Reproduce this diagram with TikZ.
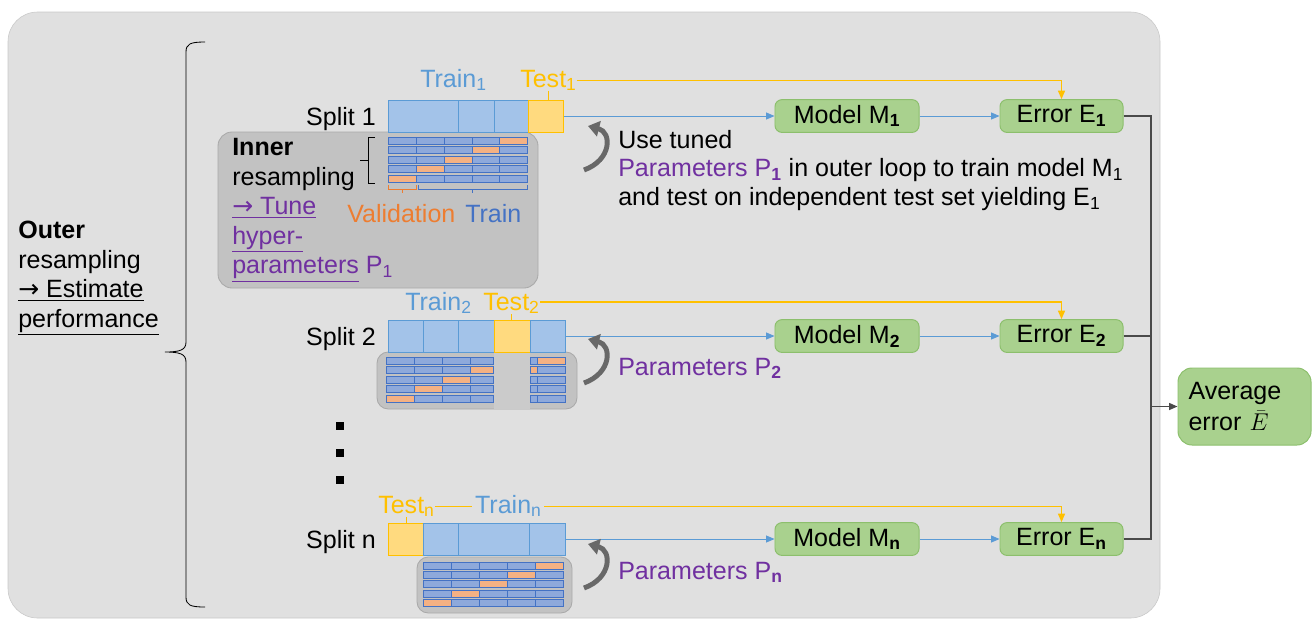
\documentclass[tikz,border=0pt]{standalone}
\usepackage{fontspec}
\setmainfont{Liberation Sans}
\newfontfamily\arrowfont{DejaVu Sans}
\usetikzlibrary{arrows.meta,positioning,calc}
\definecolor{bggray}{HTML}{E0E0E0}
\definecolor{bgline}{HTML}{C8C8C8}
\definecolor{boxgray}{HTML}{C2C2C2}
\definecolor{boxline}{HTML}{A9A9A9}
\definecolor{trainblue}{HTML}{5B9BD5}
\definecolor{barfill}{HTML}{A3C3E9}
\definecolor{testyellow}{HTML}{FFC000}
\definecolor{testfill}{HTML}{FFDA7F}
\definecolor{foldblue}{HTML}{4472C4}
\definecolor{foldfill}{HTML}{8EA9DB}
\definecolor{valorange}{HTML}{ED7D31}
\definecolor{valfill}{HTML}{F4B183}
\definecolor{greenfill}{HTML}{A9D18E}
\definecolor{greenline}{HTML}{8CBF6C}
\definecolor{paramviolet}{HTML}{7030A0}
\definecolor{loopgray}{HTML}{686868}
\definecolor{sumgray}{HTML}{4A4A4A}

\newcommand{\rarr}{{\arrowfont →}}
\newcommand{\barseg}[5]{\node[#5,minimum width={(#3-#2)*0.025cm},anchor=west] (#1) at (#2,#4) {};}
\newcommand{\foldrows}[3]{%
  \foreach \rw in {0,...,4}{
    \foreach \xl/\xr/\fk in {#3}{
      \ifnum\fk=\numexpr5-\rw\relax
        \filldraw[fold,fill=valfill] (\xl,#1+#2*\rw) rectangle (\xr,#1+#2*\rw+7);
      \else
        \filldraw[fold] (\xl,#1+#2*\rw) rectangle (\xr,#1+#2*\rw+7);
      \fi}}}

\begin{document}
\begin{tikzpicture}[x=0.025cm,y=-0.025cm,font=\fontsize{17.8}{21}\selectfont,
  trainseg/.style={draw=trainblue,fill=barfill,line width=.6pt,inner sep=0pt,minimum height=.8cm},
  testseg/.style={trainseg,draw=testyellow,fill=testfill},
  fold/.style={draw=foldblue,fill=foldfill,line width=.5pt},
  greenbox/.style={draw=greenline,fill=greenfill,line width=.7pt,rounded corners=5pt,minimum height=.82cm,inner sep=0pt},
  modelbox/.style={greenbox,minimum width=3.6cm},
  errorbox/.style={greenbox,minimum width=3.075cm},
  innerbox/.style={draw=boxline,fill=boxgray,line width=.6pt},
  bluearr/.style={draw=trainblue,line width=.6pt,-{Triangle[length=6pt,width=5pt]}},
  testarr/.style={draw=testyellow,line width=.85pt,-{Triangle[length=6pt,width=5pt]}},
  sumline/.style={draw=sumgray,line width=.9pt},
  loopar/.style={draw=loopgray,line width=3.5pt,-{Triangle[length=8pt,width=11pt]}},
  trainlbl/.style={anchor=base west,inner sep=0pt,text=trainblue},
  testlbl/.style={anchor=base west,inner sep=0pt,text=testyellow},
  splitlbl/.style={anchor=base east,inner sep=0pt},
  paramlbl/.style={anchor=base west,inner sep=0pt,text=paramviolet}]
\useasboundingbox (0,0) rectangle (1312,620);
\filldraw[fill=bggray,draw=bgline,rounded corners=21pt] (8,12) rectangle (1160,618);

% outer resampling
\node[anchor=north west,inner sep=0pt,align=left] (outer) at (18,221)
  {\textbf{Outer}\\resampling\\\underline{\rarr\ Estimate}\\\underline{performance}};
\draw[line width=.6pt] (205,42) .. controls (190,42) and (186,44) .. (186,52) -- (186,342)
  .. controls (186,350) and (180,352) .. (165,352) .. controls (180,352) and (186,354) .. (186,362)
  -- (186,597) .. controls (186,605) and (190,607) .. (205,607);

% inner resampling boxes
\draw[innerbox,rounded corners=10pt] (218,132) rectangle (538,288);
\draw[innerbox,rounded corners=8pt] (377,352) rectangle (577,409);
\fill[boxgray!85!white] (494,352) rectangle (530,409);
\draw[innerbox,rounded corners=8pt] (417,557) rectangle (572,613);
\foldrows{137}{9.5}{388/416/1,416/444/2,444/472/3,472/499/4,499/527/5}
\foldrows{357}{9.5}{386/414/1,414/442/2,442/470/3,470/493/4,530/537/4,537/565/5}
\foldrows{562}{9.3}{423/451/1,451/479/2,479/507/3,507/535/4,535/563/5}

\node[anchor=north west,inner sep=0pt,align=left] (innertxt) at (232,138)
  {\textbf{Inner}\\resampling\\\textcolor{paramviolet}{\underline{\rarr\ Tune}}\\
   \textcolor{paramviolet}{\underline{hyper-}}\\\textcolor{paramviolet}{\underline{parameters} P\textsubscript{1}}};
\draw[line width=.6pt] (375,137) -- (368,137) -- (368,183) -- (375,183);
\draw[line width=.6pt] (368,160) -- (360,160);
\draw[valorange,line width=.6pt] (388,185) -- (388,189) -- (416,189) -- (416,185) (402,189) -- (402,193);
\draw[foldblue,line width=.6pt] (418,185) -- (418,189) -- (527,189) -- (527,185) (472,189) -- (472,193);
\node[anchor=base west,inner sep=0pt,text=valorange] (vallbl) at (347,222) {Validation};
\node[anchor=base west,inner sep=0pt,text=foldblue] (foldlbl) at (465,222) {Train};

% outer splits
\barseg{s1a}{388}{458}{116}{trainseg}
\barseg{s1b}{458}{494}{116}{trainseg}
\barseg{s1c}{494}{528}{116}{trainseg}
\barseg{s1t}{528}{563}{116}{testseg}
\barseg{s2a}{388}{423}{336}{trainseg}
\barseg{s2b}{423}{458}{336}{trainseg}
\barseg{s2c}{458}{494}{336}{trainseg}
\barseg{s2t}{494}{530}{336}{testseg}
\barseg{s2e}{530}{565}{336}{trainseg}
\barseg{snt}{388}{423}{539}{testseg}
\barseg{sna}{423}{458}{539}{trainseg}
\barseg{snb}{458}{529}{539}{trainseg}
\barseg{snc}{529}{565}{539}{trainseg}

\node[splitlbl] (sp1) at (376,125) {Split 1};
\node[splitlbl] (sp2) at (376,345) {Split 2};
\node[splitlbl] (spn) at (376,548) {Split n};
\foreach \y in {426,453,480} \fill (340,\y) +(-3.7,-3.7) rectangle +(3.7,3.7);

\node[trainlbl] (tr1) at (420,87) {Train\textsubscript{1}};
\node[testlbl] (te1) at (520,87) {Test\textsubscript{1}};
\node[trainlbl] (tr2) at (405,310) {Train\textsubscript{2}};
\node[testlbl] (te2) at (483,310) {Test\textsubscript{2}};
\node[testlbl] (ten) at (378,513) {Test\textsubscript{n}};

% models and errors
\node[modelbox] (m1) at (847,116) {Model M\textsubscript{\textbf{1}}};
\node[modelbox] (m2) at (847,336) {Model M\textsubscript{\textbf{2}}};
\node[modelbox] (mn) at (847,539) {Model M\textsubscript{\textbf{n}}};
\node[errorbox] (e1) at (1061.5,116) {Error E\textsubscript{\textbf{1}}};
\node[errorbox] (e2) at (1061.5,336) {Error E\textsubscript{\textbf{2}}};
\node[errorbox] (en) at (1061.5,539) {Error E\textsubscript{\textbf{n}}};
\node[greenbox,rounded corners=10pt,minimum width=3.325cm,minimum height=1.925cm,
  text width=2.8cm,align=left,font=\fontsize{17.8}{22.5}\selectfont] (avg) at (1244.5,406.5) {Average\\error $\bar{E}$};

\draw[testarr] (te1.east) -| (e1.north);
\draw[testarr] ([yshift=1pt]te2.east) -| (e2.north);
\draw[testarr] (ten.east) -| (en.north);
\node[trainlbl,inner sep=2pt,fill=bggray] (trn) at (472,513) {Train\textsubscript{n}};
\draw[testyellow,line width=.6pt] (te1.south) -- (te1.south |- s1t.north);
\draw[testyellow,line width=.6pt] (te2.south) -- (te2.south |- s2t.north);
\draw[testyellow,line width=.6pt] (ten.south) -- (ten.south |- snt.north);

\draw[bluearr] (s1t.east) -- (m1.west);
\draw[bluearr] (s2e.east) -- (m2.west);
\draw[bluearr] (snc.east) -- (mn.west);
\draw[bluearr] (m1.east) -- (e1.west);
\draw[bluearr] (m2.east) -- (e2.west);
\draw[bluearr] (mn.east) -- (en.west);

\coordinate (jn) at (1151,406.5);
\draw[sumline] (e1.east) -| (jn);
\draw[sumline] (en.east) -| (jn);
\draw[sumline] (e2.east) -- (e2.east -| jn);
\draw[sumline,-{Triangle[length=6pt,width=5pt]}] (jn) -- (avg.west);

% tuned parameters
\draw[loopar] (584,170) .. controls (612,160) and (612,132) .. (588,126);
\draw[loopar] (584,383) .. controls (612,373) and (612,345) .. (588,339);
\draw[loopar] (584,588) .. controls (612,578) and (612,550) .. (588,544);
\node[anchor=north west,inner sep=0pt,align=left,font=\fontsize{17.8}{20.3}\selectfont] (tuned) at (618,130)
  {Use tuned\\\textcolor{paramviolet}{Parameters P\textsubscript{\textbf{1}}} in outer loop to train model M\textsubscript{1}\\
   and test on independent test set yielding E\textsubscript{1}};
\node[paramlbl] (p2) at (618,375) {Parameters P\textsubscript{\textbf{2}}};
\node[paramlbl] (pn) at (618,579) {Parameters P\textsubscript{\textbf{n}}};
\end{tikzpicture}
\end{document}
